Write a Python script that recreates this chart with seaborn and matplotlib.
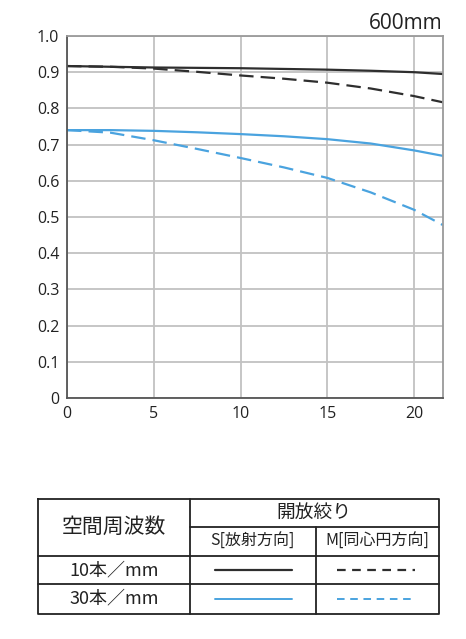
import numpy as np
import pandas as pd
import matplotlib
matplotlib.use("Agg")
import matplotlib.pyplot as plt
import seaborn as sns

# MTF values against image height (mm)
img_height = [0, 2.5, 5, 7.5, 10, 12.5, 15, 17.5, 20, 21.65]
mtf_10_s = [0.917, 0.915, 0.913, 0.912, 0.911, 0.909, 0.907, 0.904, 0.900, 0.895]
mtf_10_m = [0.917, 0.915, 0.910, 0.901, 0.891, 0.882, 0.871, 0.855, 0.834, 0.817]
mtf_30_s = [0.740, 0.740, 0.738, 0.734, 0.729, 0.723, 0.715, 0.703, 0.684, 0.669]
mtf_30_m = [0.740, 0.733, 0.712, 0.688, 0.663, 0.637, 0.608, 0.568, 0.520, 0.478]

x_ticks = [0, 5, 10, 15, 20]
y_ticks = [0, 0.1, 0.2, 0.3, 0.4, 0.5, 0.6, 0.7, 0.8, 0.9, 1.0]
y_labels = ["0", "0.1", "0.2", "0.3", "0.4", "0.5", "0.6", "0.7", "0.8", "0.9", "1.0"]
title = "600mm"

BLACK = "#2e2e2e"
BLUE = "#4aa3df"
TXT = "#222222"

sns.set_style("white")
plt.rcParams["font.family"] = ["Open Sans", "DejaVu Sans"]
jp = ["Noto Sans CJK JP", "DejaVu Sans"]

fig = plt.figure(figsize=(4.66, 6.39), dpi=100)
ax = fig.add_axes([67 / 466, 1 - 398 / 639, (442.7 - 67) / 466, (398 - 36) / 639])

curves = [
    (mtf_10_s, BLACK, "-"),
    (mtf_10_m, BLACK, "--"),
    (mtf_30_s, BLUE, "-"),
    (mtf_30_m, BLUE, "--"),
]
for vals, col, ls in curves:
    df = pd.DataFrame({"x": img_height, "y": vals})
    sns.lineplot(data=df, x="x", y="y", ax=ax, color=col, lw=1.6)
    if ls == "--":
        ax.lines[-1].set_dashes((6.5, 3.2))

ax.set_xlim(0, 21.65)
ax.set_ylim(0, 1.0)
ax.set_xticks(x_ticks)
ax.set_yticks(y_ticks)
ax.set_yticklabels(y_labels)
ax.set_xlabel("")
ax.set_ylabel("")
ax.grid(True, color="#c2c2c2", lw=1.3)
ax.set_axisbelow(True)
for side in ["left", "bottom"]:
    ax.spines[side].set_color("#555555")
    ax.spines[side].set_linewidth(1.3)
for side in ["top", "right"]:
    ax.spines[side].set_color("#9a9a9a")
    ax.spines[side].set_linewidth(1.3)
ax.tick_params(axis="both", length=0, labelsize=11.5, colors=TXT, pad=5.5)
ax.annotate(title, xy=(1.0, 1.0), xycoords="axes fraction", xytext=(0, 5),
            textcoords="offset points", ha="right", va="baseline",
            fontsize=15, color=TXT)

# legend table drawn in pixel coordinates
tb = fig.add_axes([0, 0, 1, 1])
tb.set_xlim(0, 466)
tb.set_ylim(639, 0)
tb.axis("off")
L, R, T, B = 37.5, 438.5, 498.5, 613.5
c1, c2 = 190, 315.7
r0, r1, r2 = 526.7, 556, 584.3
kw = dict(color=TXT, lw=1.3)
tb.plot([L, R, R, L, L], [T, T, B, B, T], **kw)
tb.plot([c1, c1], [T, B], **kw)
tb.plot([c2, c2], [r0, B], **kw)
tb.plot([c1, R], [r0, r0], **kw)
tb.plot([L, R], [r1, r1], **kw)
tb.plot([L, R], [r2, r2], **kw)

tb.text((L + c1) / 2, (T + r1) / 2, "空間周波数", ha="center", va="center",
        fontsize=15, family=jp, color=TXT)
tb.text((c1 + R) / 2, (T + r0) / 2, "開放絞り", ha="center", va="center",
        fontsize=13.5, family=jp, color=TXT)
tb.text((c1 + c2) / 2, (r0 + r1) / 2, "S[放射方向]", ha="center", va="center",
        fontsize=11.5, family=jp, color=TXT)
tb.text((c2 + R) / 2, (r0 + r1) / 2, "M[同心円方向]", ha="center", va="center",
        fontsize=11.5, family=jp, color=TXT)
tb.text((L + c1) / 2, (r1 + r2) / 2, "10本／mm", ha="center", va="center",
        fontsize=13, family=jp, color=TXT)
tb.text((L + c1) / 2, (r2 + B) / 2, "30本／mm", ha="center", va="center",
        fontsize=13, family=jp, color=TXT)

for y, col, w in [((r1 + r2) / 2, BLACK, 1.6), ((r2 + B) / 2, BLUE, 1.4)]:
    tb.plot([215, 292], [y, y], color=col, lw=w)
    dl = tb.plot([337, 415], [y, y], color=col, lw=w)[0]
    dl.set_dashes((3.9, 2.9))

fig.savefig("out.png", dpi=100)
